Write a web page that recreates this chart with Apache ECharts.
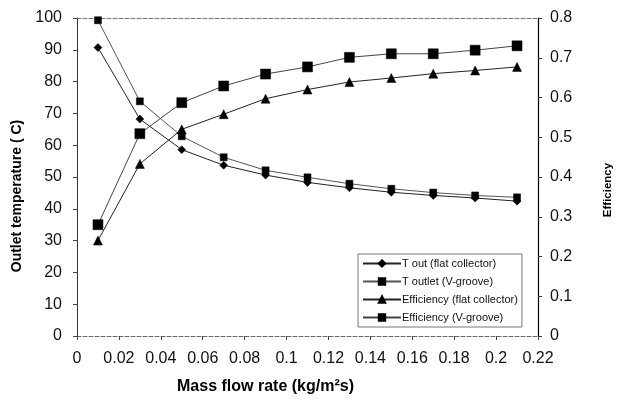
<!DOCTYPE html>
<html>
<head>
<meta charset="utf-8">
<script src="https://cdn.jsdelivr.net/npm/echarts@6/dist/echarts.min.js"></script>
<style>
  html, body { margin: 0; padding: 0; background: #fff; }
  #chart { width: 622px; height: 400px; }
</style>
</head>
<body>
<div id="chart"></div>
<script>
// Mass flow rate (kg/m2s)
const flowRate = [0.01, 0.03, 0.05, 0.07, 0.09, 0.11, 0.13, 0.15, 0.17, 0.19, 0.21];

// Outlet temperatures (C)
const tOutFlat = [90.7, 68.2, 58.6, 53.7, 50.6, 48.3, 46.6, 45.2, 44.2, 43.4, 42.4];
const tOutletVGroove = [99.3, 73.8, 62.8, 56.2, 52.1, 49.9, 47.9, 46.3, 45.1, 44.2, 43.6];

// Collector efficiencies
const effFlat = [0.24, 0.433, 0.52, 0.558, 0.597, 0.62, 0.639, 0.649, 0.66, 0.668, 0.677];
const effVGroove = [0.28, 0.509, 0.587, 0.629, 0.659, 0.677, 0.701, 0.71, 0.71, 0.719, 0.73];

const seriesNames = [
  'T out (flat collector)',
  'T outlet (V-groove)',
  'Efficiency (flat collector)',
  'Efficiency (V-groove)'
];

const pairs = (ys) => flowRate.map((x, i) => [x, ys[i]]);

const FONT = '"Liberation Sans", Arial, sans-serif';
const chart = echarts.init(document.getElementById('chart'), null, { renderer: 'canvas' });

const lineSeries = (name, data, yIdx, symbol, size, color) => ({
  name,
  type: 'line',
  xAxisIndex: 0,
  yAxisIndex: yIdx,
  data,
  symbol,
  symbolSize: size,
  showSymbol: true,
  lineStyle: { color: color, width: 1 },
  itemStyle: { color: '#000', borderColor: '#000', borderWidth: 0.5 },
  animation: false,
  z: 3
});

chart.setOption({
  animation: false,
  backgroundColor: '#fff',
  grid: { left: 77, right: 67, top: 18, bottom: 63 },
  legend: {
    orient: 'vertical',
    left: 358,
    top: 254,
    data: seriesNames,
    itemWidth: 38,
    itemHeight: 8,
    itemGap: 7,
    padding: [4, 4, 4, 4],
    borderColor: '#777',
    borderWidth: 1,
    backgroundColor: '#fff',
    textStyle: { fontFamily: FONT, fontSize: 11, color: '#111', padding: [0, 0, 0, -4] }
  },
  xAxis: [
    {
      type: 'value',
      min: 0,
      max: 0.22,
      interval: 0.02,
      name: 'Mass flow rate (kg/m\u00b2s)',
      nameLocation: 'middle',
      nameGap: 43,
      nameTextStyle: { fontFamily: FONT, fontSize: 16, fontWeight: 'bold', color: '#000', padding: [0, 84, 0, 0] },
      axisLine: { show: true, onZero: false, lineStyle: { color: '#666', width: 1, type: 'dashed' } },
      axisTick: { show: true, inside: false, length: 4, lineStyle: { color: '#444' } },
      axisLabel: {
        margin: 15,
        fontFamily: FONT,
        fontSize: 16,
        color: '#111',
        formatter: (v) => String(parseFloat(v.toFixed(2)))
      },
      splitLine: { show: false }
    },
    {
      type: 'value',
      position: 'top',
      min: 0,
      max: 0.22,
      interval: 0.02,
      axisLine: { show: true, onZero: false, lineStyle: { color: '#777', width: 1, type: 'dashed' } },
      axisTick: { show: false },
      axisLabel: { show: false },
      splitLine: { show: false }
    }
  ],
  yAxis: [
    {
      type: 'value',
      min: 0,
      max: 100,
      interval: 10,
      position: 'left',
      name: 'Outlet temperature ( C)',
      nameLocation: 'middle',
      nameGap: 48,
      nameTextStyle: { fontFamily: FONT, fontSize: 14, fontWeight: 'bold', color: '#000', padding: [0, 38, 0, 0] },
      axisLine: { show: true, onZero: false, lineStyle: { color: '#333', width: 1 } },
      axisTick: { show: true, inside: false, length: 4, lineStyle: { color: '#444' } },
      axisLabel: { margin: 15, fontFamily: FONT, fontSize: 16, color: '#111' },
      splitLine: { show: false }
    },
    {
      type: 'value',
      min: 0,
      max: 0.8,
      interval: 0.1,
      position: 'right',
      name: 'Efficiency',
      nameLocation: 'middle',
      nameGap: 64,
      nameTextStyle: { fontFamily: FONT, fontSize: 11.5, fontWeight: 'bold', color: '#000', padding: [0, 26, 0, 0] },
      axisLine: { show: true, onZero: false, lineStyle: { color: '#000', width: 1.2 } },
      axisTick: { show: true, inside: false, length: 4, lineStyle: { color: '#333' } },
      axisLabel: {
        margin: 12,
        fontFamily: FONT,
        fontSize: 16,
        color: '#111',
        formatter: (v) => String(parseFloat(v.toFixed(1)))
      },
      splitLine: { show: false }
    }
  ],
  series: [
    lineSeries(seriesNames[0], pairs(tOutFlat), 0, 'diamond', 8, '#222'),
    lineSeries(seriesNames[1], pairs(tOutletVGroove), 0, 'rect', 7, '#555'),
    lineSeries(seriesNames[2], pairs(effFlat), 1, 'triangle', 9, '#222'),
    lineSeries(seriesNames[3], pairs(effVGroove), 1, 'rect', 10, '#444')
  ]
});
</script>
</body>
</html>
